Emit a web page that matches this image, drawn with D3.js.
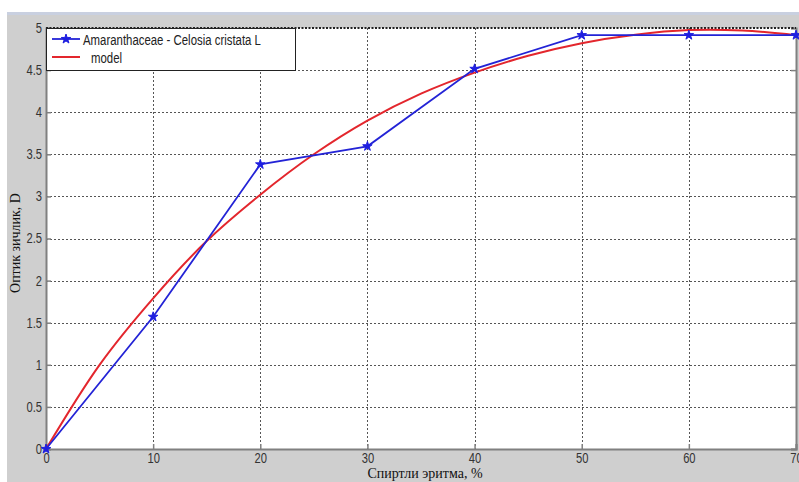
<!DOCTYPE html>
<html>
<head>
<meta charset="utf-8">
<script src="https://cdn.jsdelivr.net/npm/d3@7"></script>
<style>
  html, body { margin: 0; padding: 0; background: #fff; }
  svg { display: block; }
</style>
</head>
<body>
<svg id="chart" width="799" height="482"></svg>
<script>
// Measured optical density of the extract vs. alcohol concentration
const concentration = [0, 10, 20, 30, 40, 50, 60, 70];
const density = [0, 1.57, 3.38, 3.595, 4.515, 4.915, 4.915, 4.915];

// Fitted model curve, sampled every 5 %
const modelX = [0, 5, 10, 15, 20, 25, 30, 35, 40, 45, 50, 55, 60, 65, 70];
const modelY = [0, 1.0, 1.79, 2.47, 3.02, 3.5, 3.9, 4.22, 4.47, 4.67, 4.82, 4.92, 4.975, 4.97, 4.915];

const xTicks = [0, 10, 20, 30, 40, 50, 60, 70];
const yTicks = [0, 0.5, 1, 1.5, 2, 2.5, 3, 3.5, 4, 4.5, 5];

const seriesLabel = "Amaranthaceae - Celosia cristata L";
const modelLabel = "model";
const xTitle = "Спиртли эритма, %";
const yTitle = "Оптик зичлик, D";

const svg = d3.select("#chart");
const W = 799, H = 482;
const plot = { left: 46, top: 28, right: 796, bottom: 449 };
const sansFont = "'Liberation Sans', Arial, sans-serif";
const titleFont = "'Liberation Serif', 'Times New Roman', serif";
const narrow = 0.8;   // horizontal squeeze of the tick labels
const lgNarrow = 0.76; // horizontal squeeze of the legend entries

// Figure background
svg.append("rect").attr("x", 7).attr("y", 12).attr("width", W - 7).attr("height", H - 12)
  .attr("fill", "#cfcfcf");
svg.append("rect").attr("x", 7).attr("y", 12).attr("width", W - 7).attr("height", 3)
  .attr("fill", "#c9d0e0");

const x = d3.scaleLinear().domain([0, 70]).range([plot.left, plot.right]);
const y = d3.scaleLinear().domain([0, 5]).range([plot.bottom, plot.top]);

// Axes area
svg.append("rect")
  .attr("x", plot.left).attr("y", plot.top)
  .attr("width", plot.right - plot.left).attr("height", plot.bottom - plot.top)
  .attr("fill", "#ffffff");

// Dotted grid
const grid = svg.append("g").attr("stroke", "#555").attr("stroke-width", 1)
  .attr("stroke-dasharray", "2,2");
grid.selectAll("line.gx").data(xTicks.slice(1, -1)).join("line")
  .attr("x1", d => Math.round(x(d)) + 0.5).attr("x2", d => Math.round(x(d)) + 0.5)
  .attr("y1", plot.top).attr("y2", plot.bottom);
grid.selectAll("line.gy").data(yTicks.slice(1, -1)).join("line")
  .attr("x1", plot.left).attr("x2", plot.right)
  .attr("y1", d => Math.round(y(d)) + 0.5).attr("y2", d => Math.round(y(d)) + 0.5);

// Axes with inward ticks
const xAxis = d3.axisBottom(x).tickValues(xTicks).tickSize(-5).tickPadding(4)
  .tickFormat(d3.format("d"));
const yAxis = d3.axisLeft(y).tickValues(yTicks).tickSize(-5).tickPadding(4)
  .tickFormat(d => String(d));

const gx = svg.append("g").attr("transform", `translate(0,${plot.bottom})`).call(xAxis);
const gy = svg.append("g").attr("transform", `translate(${plot.left},0)`).call(yAxis);
[gx, gy].forEach(g => {
  g.select(".domain").attr("stroke", "#808080").attr("stroke-width", 2);
  g.selectAll(".tick line").attr("stroke", "#808080").attr("stroke-width", 1.5);
  g.selectAll(".tick text").attr("fill", "#333")
    .attr("transform", `scale(${narrow},1)`)
    .style("font-family", sansFont).style("font-size", "14px");
});
gx.selectAll(".tick text").attr("dy", "0.71em");
gy.selectAll(".tick text").attr("dy", "0.32em").attr("x", -4 / narrow);

// Right and top edges
const yR = d3.axisRight(y).tickValues(yTicks).tickSize(-5).tickFormat("");
const gr = svg.append("g").attr("transform", `translate(${plot.right},0)`).call(yR);
gr.select(".domain").attr("stroke", "#808080").attr("stroke-width", 2);
gr.selectAll(".tick line").attr("stroke", "#808080").attr("stroke-width", 1.5);
svg.append("line")
  .attr("x1", plot.left).attr("x2", plot.right)
  .attr("y1", plot.top).attr("y2", plot.top)
  .attr("stroke", "#222").attr("stroke-width", 2).attr("stroke-dasharray", "2,1.5");

// Model curve
const modelPts = modelX.map((v, i) => [v, modelY[i]]);
const smoothLine = d3.line().x(d => x(d[0])).y(d => y(d[1])).curve(d3.curveCatmullRom.alpha(0.5));
svg.append("path").datum(modelPts)
  .attr("fill", "none").attr("stroke", "#e3262d").attr("stroke-width", 2)
  .attr("d", smoothLine);

// Measured series
const dataPts = concentration.map((v, i) => [v, density[i]]);
svg.append("path").datum(dataPts)
  .attr("fill", "none").attr("stroke", "#2323d6").attr("stroke-width", 1.8)
  .attr("d", d3.line().x(d => x(d[0])).y(d => y(d[1])));

const marker = d3.symbol().type(d3.symbolStar).size(28);
svg.selectAll("path.pt").data(dataPts).join("path")
  .attr("class", "pt")
  .attr("transform", d => `translate(${x(d[0])},${y(d[1])})`)
  .attr("d", marker)
  .attr("fill", "#1f1fe0").attr("stroke", "#1f1fe0").attr("stroke-width", 1);

// Legend
const lg = svg.append("g");
lg.append("rect").attr("x", plot.left + 0.5).attr("y", plot.top + 0.5)
  .attr("width", 249).attr("height", 42)
  .attr("fill", "#fff").attr("stroke", "#222").attr("stroke-width", 1);
lg.append("line").attr("x1", 52).attr("x2", 80).attr("y1", 39).attr("y2", 39)
  .attr("stroke", "#2323d6").attr("stroke-width", 1.8);
lg.append("path").attr("transform", "translate(66,39)").attr("d", marker)
  .attr("fill", "#1f1fe0").attr("stroke", "#1f1fe0").attr("stroke-width", 1);
lg.append("line").attr("x1", 52).attr("x2", 80).attr("y1", 57).attr("y2", 57)
  .attr("stroke", "#e3262d").attr("stroke-width", 2);
lg.append("text").attr("transform", `translate(83,45) scale(${lgNarrow},1)`).text(seriesLabel)
  .style("font-family", sansFont).style("font-size", "15px").attr("fill", "#222");
lg.append("text").attr("transform", `translate(91,63) scale(${lgNarrow},1)`).text(modelLabel)
  .style("font-family", sansFont).style("font-size", "15px").attr("fill", "#222");

// Axis titles
svg.append("text").attr("x", 425).attr("y", 478).attr("text-anchor", "middle")
  .text(xTitle).style("font-family", titleFont).style("font-size", "14px").attr("fill", "#111");
svg.append("text").attr("transform", "translate(20,243) rotate(-90)")
  .attr("text-anchor", "middle").text(yTitle)
  .style("font-family", titleFont).style("font-size", "14px").attr("fill", "#111");
</script>
</body>
</html>
